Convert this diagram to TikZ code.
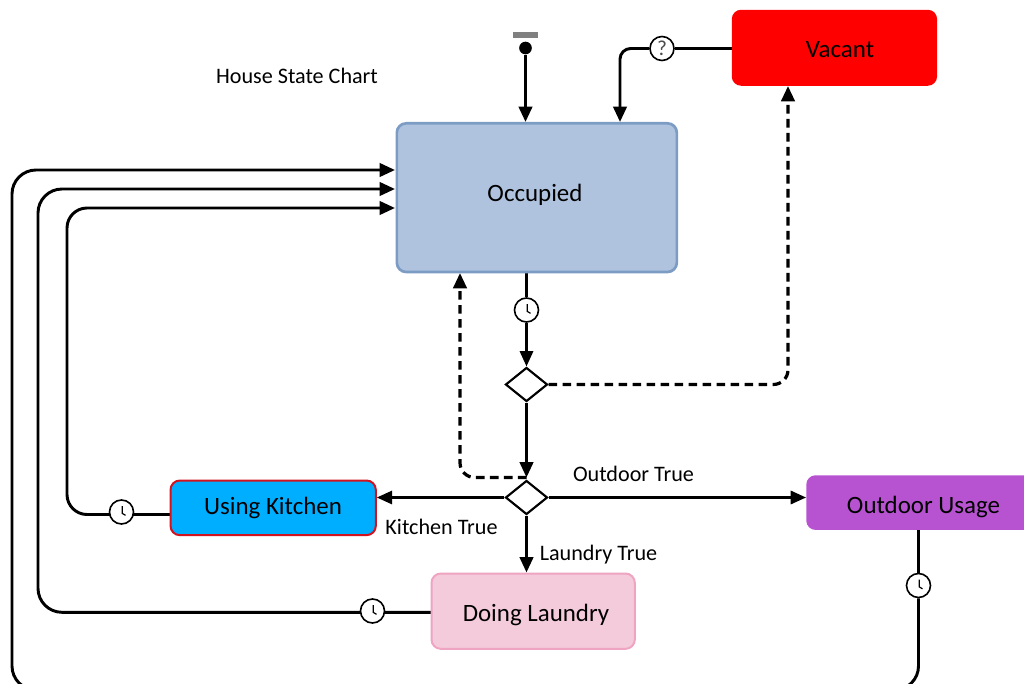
\documentclass[tikz,border=0pt]{standalone}
\usepackage{fontspec}
\setmainfont{Carlito}
\usetikzlibrary{arrows.meta,shapes.geometric,backgrounds}
\definecolor{occfill}{HTML}{AFC3DE}
\definecolor{occline}{HTML}{7C9CC4}
\definecolor{lapink}{HTML}{F4CBDB}
\definecolor{laline}{HTML}{EFA4C2}
\definecolor{kblue}{HTML}{00AEFF}
\definecolor{kred}{HTML}{D2131F}
\definecolor{opurple}{HTML}{B753D1}
\tikzset{
  x=0.75pt,y=-0.75pt,
  tip/.style={-{Triangle[length=11.5pt,width=10pt]}},
  conn/.style={line width=2.2pt,draw=black,rounded corners=11pt},
  thinconn/.style={line width=1.65pt,draw=black},
  dash conn/.style={conn,line width=2.4pt,dash pattern=on 6.5pt off 4pt},
  statebox/.style={rectangle,rounded corners=7pt,anchor=north west,inner sep=0pt},
  boxtext/.style={font=\fontsize{18.7pt}{20pt}\selectfont,inner sep=0pt},
  choice/.style={diamond,draw=black,fill=white,line width=1.6pt,inner sep=0pt,minimum width=31.5pt,minimum height=25.5pt,aspect=1.2},
  timer/.style={circle,draw=black,fill=white,line width=1.2pt,inner sep=0pt,minimum size=18pt,
    path picture={\draw[line width=0.9pt] ([xshift=0.5pt,yshift=4.5pt]path picture bounding box.center) -- ([xshift=0.5pt,yshift=-1pt]path picture bounding box.center) -- ([xshift=3pt,yshift=-2.5pt]path picture bounding box.center);}},
  ask/.style={circle,draw=black,fill=white,line width=1.2pt,inner sep=0pt,minimum size=18pt,text=black!70,font=\fontsize{16pt}{16pt}\selectfont},
  lab/.style={font=\fontsize{16.6pt}{18pt}\selectfont,inner sep=0pt}
}
\begin{document}
\begin{tikzpicture}
\path[use as bounding box] (0,0) rectangle (1024,684);
\clip (0,0) rectangle (1024,684);
% states
\node[statebox,draw=occline,fill=occfill,line width=2pt,minimum width=210pt,minimum height=111.5pt] (occ) at (395.5,122) {};
\node[boxtext] (occt) at (535,194.5) {Occupied};
\node[statebox,fill=red,minimum width=154pt,minimum height=57pt] (vac) at (731.5,9.5) {};
\node[boxtext] (vact) at (840,50) {Vacant};
\node[statebox,draw=kred,fill=kblue,line width=1.5pt,minimum width=154pt,minimum height=41pt] (kit) at (169.5,479.5) {};
\node[boxtext] (kitt) at (273,507.5) {Using Kitchen};
\node[statebox,draw=laline,fill=lapink,line width=1.5pt,minimum width=152.5pt,minimum height=56.5pt] (lau) at (430.5,572.5) {};
\node[boxtext] (laut) at (536,614.5) {Doing Laundry};
\node[statebox,fill=opurple,minimum width=180pt,minimum height=41pt] (out) at (806,475) {};
\node[boxtext] (outt) at (923.5,506.5) {Outdoor Usage};
% pseudo-states
\node[choice] (d1) at (526.5,384.5) {};
\node[choice] (d2) at (526.5,497.5) {};
\node[circle,fill=black,inner sep=0pt,minimum size=9.5pt] (init) at (525.5,48) {};
\node[rectangle,fill=black!50,inner sep=0pt,minimum width=19pt,minimum height=4.5pt] (bar) at (525.5,35) {};
% timers
\node[timer] (t1) at (526.5,310) {};
\node[timer] (t2) at (121.5,512) {};
\node[timer] (t3) at (372.5,611) {};
\node[timer] (t4) at (918.5,585.5) {};
\node[ask] (q) at (662,48.5) {?};
% anchors for connectors
\coordinate (o1) at (395,170);
\coordinate (o2) at (395,189);
\coordinate (o3) at (395,208);
\coordinate (o4) at (460,273);
\coordinate (o5) at (620,122);
\coordinate (v1) at (788,86);
\coordinate (j1) at (526.5,477.5);
\coordinate (k1) at (170,514.5);
\coordinate (l1) at (431,612.3);
% connectors
\begin{scope}[on background layer]
\draw[conn,tip] (init) -- (init |- occ.north);
\draw[conn] (vac.west |- q) -- (q);
\draw[conn,tip,rounded corners=8pt] (q) -| (o5);
\draw[thinconn] (t1 |- occ.south) -- (t1);
\draw[thinconn,tip] (t1) -- (d1);
\draw[conn,tip] (d1) -- (j1);
\draw[dash conn,tip] (d1) -| (v1);
\draw[dash conn,tip] (j1) -| (o4);
\draw[thinconn,tip] (d2) -- (kit.east |- d2);
\draw[thinconn,tip] (d2) -- (out.west |- d2);
\draw[conn,tip] (d2) -- (d2 |- lau.north);
\draw[conn,tip,rounded corners=15pt] (k1) -| (67,208) -- (o3);
\draw[conn,tip,rounded corners=18pt] (l1) -| (38,189) -- (o2);
\draw[conn] (t4 |- out.south) -- (t4);
\draw[conn,tip,rounded corners=18pt] (t4) |- (12,690) |- (o1);
\end{scope}
% labels
\node[lab] (title) at (297,75.5) {House State Chart};
\node[lab] (lk) at (441.5,526.5) {Kitchen True};
\node[lab] (lo) at (633.5,473.5) {Outdoor True};
\node[lab] (ll) at (598.5,554.5) {Laundry True};
\end{tikzpicture}
\end{document}
